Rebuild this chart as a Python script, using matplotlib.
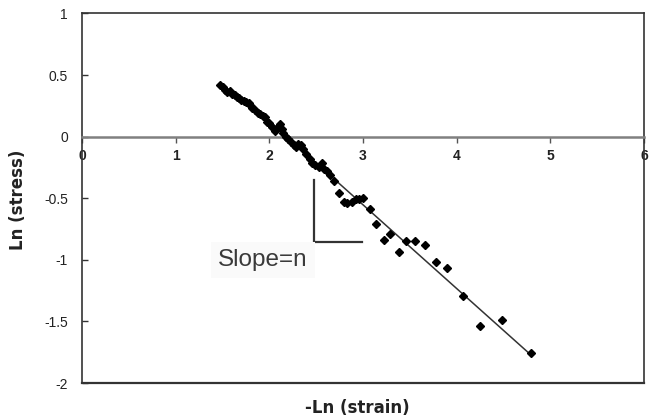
import matplotlib
matplotlib.use("Agg")
import matplotlib.pyplot as plt
import numpy as np

plt.rcParams['font.family'] = ['Liberation Sans', 'DejaVu Sans']

# -Ln(strain) and Ln(stress) data points
neg_ln_strain = [1.47, 1.50, 1.53, 1.55, 1.58, 1.60, 1.63, 1.65, 1.68, 1.70,
                 1.73, 1.75, 1.78, 1.80, 1.82, 1.85, 1.88, 1.90, 1.93, 1.95,
                 1.98, 2.00, 2.03, 2.06, 2.08, 2.11, 2.13, 2.15, 2.18, 2.20,
                 2.23, 2.26, 2.28, 2.31, 2.34, 2.36, 2.39, 2.43, 2.46, 2.49,
                 2.53, 2.56, 2.58, 2.62, 2.65, 2.69, 2.74, 2.80, 2.83, 2.88,
                 2.93, 2.96, 3.00, 3.08, 3.14, 3.22, 3.29, 3.38, 3.46, 3.55,
                 3.66, 3.78, 3.90, 4.07, 4.25, 4.48, 4.79]
ln_stress = [0.417, 0.40, 0.38, 0.36, 0.37, 0.35, 0.34, 0.32, 0.31, 0.30,
             0.29, 0.28, 0.27, 0.25, 0.23, 0.22, 0.19, 0.18, 0.17, 0.16,
             0.12, 0.11, 0.08, 0.05, 0.07, 0.10, 0.06, 0.03, 0.00, -0.02,
             -0.04, -0.07, -0.08, -0.06, -0.065, -0.10, -0.14, -0.18, -0.21, -0.23,
             -0.25, -0.21, -0.26, -0.28, -0.31, -0.36, -0.46, -0.53, -0.54, -0.53,
             -0.51, -0.51, -0.50, -0.59, -0.71, -0.84, -0.79, -0.94, -0.85, -0.85,
             -0.88, -1.02, -1.07, -1.29, -1.54, -1.49, -1.76]

# fitted line endpoints (x) and fit parameters
fit_x = [2.0, 4.8]
fit_slope = -0.68
fit_intercept = 1.487

x_ticks = [0, 1, 2, 3, 4, 5, 6]
y_ticks = [-2, -1.5, -1, -0.5, 0, 0.5, 1]
y_tick_labels = ['-2', '-1.5', '-1', '-0.5', '0', '0.5', '1']

fig = plt.figure(figsize=(6.49, 4.19), dpi=100)
ax = fig.add_axes([82/649, 1-383/419, (644-82)/649, (383-13.5)/419])

ax.set_xlim(0, 6)
ax.set_ylim(-2, 1)

# frame
for s in ['left', 'top', 'right']:
    ax.spines[s].set_color('#333333')
    ax.spines[s].set_linewidth(1.2)
ax.spines['bottom'].set_position(('data', 0))
ax.spines['bottom'].set_color('#808080')
ax.spines['bottom'].set_linewidth(1.8)
ax.axhline(-2, color='#333333', lw=1.6, clip_on=False, zorder=3)

# data
ax.plot(neg_ln_strain, ln_stress, linestyle='none', marker='D', markersize=4.5,
        color='black', zorder=4)

fx = np.array(fit_x)
ax.plot(fx, fit_slope * fx + fit_intercept, color='#333333', lw=1.1, zorder=3)

# slope triangle
ax.plot([2.48, 2.48, 2.99], [-0.35, -0.855, -0.855], color='#333333', lw=1.6)

ax.text(1.45, -1.0, 'Slope=n', fontsize=17.5, color='#3a3a3a', va='center', ha='left',
        bbox=dict(boxstyle='square,pad=0.3', facecolor='#fafafa', edgecolor='none'))

ax.set_xticks(x_ticks)
ax.set_xticklabels([str(t) for t in x_ticks], fontweight='bold', fontsize=10, color='#222222')
ax.set_yticks(y_ticks)
ax.set_yticklabels(y_tick_labels, fontsize=10, color='#222222')
ax.tick_params(axis='x', direction='out', length=4, width=1, color='#555555', pad=5)
ax.tick_params(axis='y', direction='in', length=4, width=1, color='#333333', pad=10)

fig.text(357/649, 1-408/419, '-Ln (strain)', ha='center', va='center',
         fontsize=12, fontweight='bold', color='#222222', family='DejaVu Sans')
fig.text(18/649, 1-200/419, 'Ln (stress)', ha='center', va='center', rotation=90,
         fontsize=12, fontweight='bold', color='#222222', family='DejaVu Sans')

fig.savefig('out.png', dpi=100)
